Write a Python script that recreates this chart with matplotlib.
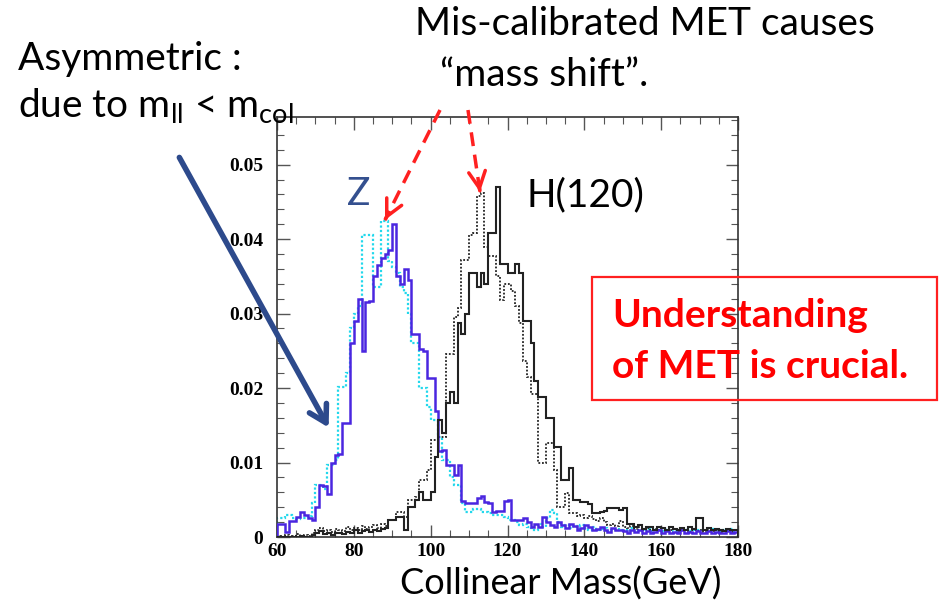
import numpy as np
import matplotlib.pyplot as plt
from matplotlib.patches import FancyArrowPatch, Rectangle
from matplotlib.lines import Line2D
from matplotlib.ticker import MultipleLocator, FixedLocator

# collinear mass, 1 GeV bins from 60 to 180 (entries in units of 1e-3)
mass_lo, mass_hi = 60, 180

z_reco = [1.8, 1.8, 0.7, 2.2, 2.2, 2.7, 3.3, 3.0, 2.6, 2.3,
          4.0, 7.0, 6.8, 5.8, 10.0, 11.0, 11.2, 15.3, 15.3, 26.0,
          29.0, 32.0, 25.0, 31.5, 31.7, 35.0, 36.5, 37.5, 38.0, 38.5,
          42.0, 35.0, 34.0, 36.0, 34.5, 27.3, 27.3, 25.3, 25.0, 21.3,
          21.3, 16.9, 11.6, 11.7, 9.7, 9.7, 8.3, 9.7, 4.8, 4.6,
          4.6, 4.6, 5.2, 5.5, 4.7, 4.5, 3.4, 3.5, 3.5, 4.8,
          5.0, 2.3, 2.3, 2.3, 2.5, 2.0, 1.4, 1.8, 1.4, 2.7,
          2.0, 1.6, 1.4, 2.0, 1.6, 1.2, 1.8, 1.5, 1.0, 1.2,
          1.6, 1.3, 0.9, 1.1, 1.4, 1.0, 0.7, 1.2, 0.9, 1.0,
          0.8, 0.6, 0.9, 0.7, 1.0, 0.6, 0.8, 0.5, 0.7, 0.9,
          0.6, 0.8, 0.5, 0.7, 0.6, 0.9, 0.5, 0.7, 0.6, 0.8,
          0.5, 0.6, 0.8, 0.5, 0.7, 0.6, 0.5, 0.8, 0.6, 0.7]

z_smear = [2.5, 2.5, 3.0, 3.0, 2.6, 2.4, 2.6, 2.5, 2.8, 4.5,
           7.0, 7.0, 6.5, 9.7, 9.7, 10.4, 20.2, 20.2, 22.0, 28.0,
           30.0, 31.0, 40.5, 40.5, 40.5, 33.6, 33.6, 42.5, 42.5, 37.0,
           36.3, 35.5, 33.6, 32.7, 30.0, 26.0, 26.0, 20.0, 20.0, 17.5,
           15.7, 15.7, 13.4, 10.4, 10.4, 8.0, 7.0, 7.0, 4.5, 3.3,
           3.3, 3.8, 3.8, 3.4, 3.4, 3.2, 3.0, 3.0, 2.9, 2.7,
           2.3, 2.3, 2.0, 1.6, 1.8, 1.4, 1.2, 1.0, 1.8, 1.4,
           2.5, 3.6, 3.2, 2.0, 1.4, 1.6, 1.2, 1.5, 1.1, 1.6,
           1.2, 1.0, 1.3, 0.9, 1.1, 1.2, 0.8, 1.0, 1.1, 0.9,
           1.0, 0.8, 1.2, 0.9, 0.8, 1.0, 1.1, 0.8, 0.9, 1.0,
           0.8, 1.1, 0.9, 0.8, 1.0, 0.9, 1.1, 0.8, 1.0, 0.9,
           0.9, 1.0, 0.8, 1.1, 0.9, 0.8, 1.0, 0.9, 1.1, 0.8]

h_reco = [0.0, 0.0, 0.0, 0.0, 0.0, 0.0, 0.2, 0.0, 0.0, 0.3,
          0.5, 0.8, 0.4, 0.6, 0.3, 0.5, 0.6, 0.4, 0.7, 0.5,
          0.9, 0.6, 0.8, 0.9, 0.7, 1.0, 0.8, 1.1, 1.2, 2.3,
          2.3, 2.7, 2.7, 0.9, 4.0, 4.0, 5.0, 6.0, 5.0, 5.0,
          6.0, 10.7, 15.7, 14.0, 18.0, 19.5, 18.0, 28.7, 27.3, 30.0,
          35.4, 35.4, 33.6, 35.4, 34.0, 40.8, 40.8, 47.0, 36.7, 36.7,
          35.4, 35.4, 36.7, 35.4, 29.0, 29.0, 26.0, 21.0, 18.8, 18.8,
          16.0, 16.0, 12.1, 12.1, 7.7, 7.7, 9.2, 5.0, 5.0, 4.7,
          4.7, 4.4, 3.2, 3.2, 3.4, 3.5, 3.9, 3.9, 3.9, 3.6,
          3.9, 1.8, 1.8, 1.3, 1.6, 1.1, 1.4, 1.3, 1.0, 1.4,
          1.2, 1.0, 1.3, 1.1, 0.9, 1.2, 1.0, 1.3, 1.1, 2.5,
          2.5, 1.0, 1.2, 0.9, 1.1, 1.0, 0.8, 1.1, 0.9, 1.0]

h_smear = [0.2, 0.0, 0.3, 0.0, 0.2, 0.4, 0.0, 0.3, 0.2, 0.5,
           0.9, 1.2, 0.8, 1.0, 0.7, 1.1, 0.9, 0.8, 1.3, 1.0,
           1.2, 0.9, 1.5, 1.1, 1.4, 1.6, 1.2, 1.8, 1.5, 2.3,
           2.3, 3.4, 3.4, 2.7, 5.0, 5.0, 5.4, 7.7, 7.7, 9.0,
           13.0, 13.0, 13.4, 13.4, 24.6, 24.6, 29.5, 30.8, 37.2, 37.2,
           40.5, 40.8, 45.8, 46.2, 39.0, 37.7, 37.7, 35.0, 31.8, 34.0,
           34.0, 33.0, 31.0, 28.7, 23.7, 21.5, 19.2, 19.2, 9.9, 9.9,
           12.6, 12.6, 9.0, 4.0, 4.0, 5.9, 3.2, 3.2, 2.8, 3.0,
           2.5, 2.8, 2.4, 2.2, 2.5, 2.0, 1.6, 1.8, 1.5, 2.2,
           1.4, 1.2, 1.5, 1.1, 1.3, 1.0, 1.2, 0.9, 1.1, 1.0,
           0.8, 1.0, 0.9, 1.1, 0.8, 1.0, 0.9, 0.7, 1.0, 0.8,
           0.9, 0.7, 1.0, 0.8, 0.9, 0.7, 0.8, 1.0, 0.7, 0.9]

x_ticks = [60, 80, 100, 120, 140, 160, 180]
y_ticks = [0, 0.01, 0.02, 0.03, 0.04, 0.05]
y_labels = ['0', '0.01', '0.02', '0.03', '0.04', '0.05']

W, H = 946, 612
SANS = 'Lato'


def fpos(x, y):
    """pixel position (from top-left) -> figure fraction"""
    return x / W, 1 - y / H


plt.rcParams['mathtext.fontset'] = 'custom'
plt.rcParams['mathtext.rm'] = SANS

fig = plt.figure(figsize=(W / 100, H / 100), dpi=100)
ax = fig.add_axes([277 / W, 1 - 537 / H, (738 - 277) / W, (537 - 117) / H])

edges = np.arange(mass_lo, mass_hi + 1, 1)
scale = 1e-3
ax.stairs(np.array(z_smear) * scale, edges, color='#22d8ec', lw=1.6, ls=(0, (1, 1)), zorder=2)
ax.stairs(np.array(z_reco) * scale, edges, color='#4a26e0', lw=1.8, zorder=3)
ax.stairs(np.array(h_smear) * scale, edges, color='#222222', lw=1.3, ls=(0, (1, 1)), zorder=2)
ax.stairs(np.array(h_reco) * scale, edges, color='#222222', lw=1.5, zorder=3)

ax.set_xlim(mass_lo, mass_hi)
ax.set_ylim(0, 0.0564)
ax.xaxis.set_major_locator(FixedLocator(x_ticks))
ax.xaxis.set_minor_locator(MultipleLocator(5))
ax.yaxis.set_major_locator(FixedLocator(y_ticks))
ax.yaxis.set_minor_locator(MultipleLocator(0.002))
ax.set_yticklabels(y_labels)
ax.tick_params(which='both', direction='in', top=True, right=True, color='#555555')
ax.tick_params(which='major', length=9, width=1.0)
ax.tick_params(which='minor', length=5, width=0.8)
ax.tick_params(axis='x', pad=4)
ax.tick_params(axis='y', pad=10)
for lab in ax.get_xticklabels() + ax.get_yticklabels():
    lab.set_fontfamily('Liberation Serif')
    lab.set_fontweight('bold')
    lab.set_fontsize(14)
for sp in ax.spines.values():
    sp.set_color('#333333')
    sp.set_linewidth(1.2)

# annotations around the plot
fig.text(*fpos(18, 70), 'Asymmetric :', fontsize=28, family=SANS, va='baseline')
fig.text(*fpos(18, 118), r'due to m$_{\rm ll}$ < m$_{\rm col}$', fontsize=28, family=SANS, va='baseline')
fig.text(*fpos(415, 35), 'Mis-calibrated MET causes', fontsize=28, family=SANS, va='baseline')
fig.text(*fpos(440, 86), '\u201cmass shift\u201d.', fontsize=28, family=SANS, va='baseline')
fig.text(*fpos(347, 205), 'Z', fontsize=28, family=SANS, color='#34508f', va='baseline')
fig.text(*fpos(527, 206), 'H(120)', fontsize=28, family=SANS, color='black', va='baseline')
fig.text(*fpos(400, 595), 'Collinear Mass(GeV)', fontsize=26, family=SANS, va='baseline')

fig.add_artist(Rectangle(fpos(592, 400), (937 - 592) / W, (400 - 277) / H,
                         transform=fig.transFigure, fill=False,
                         edgecolor='#ff2020', lw=1.6, zorder=4))
fig.text(*fpos(612, 327), 'Understanding', fontsize=28, family=SANS, weight='bold',
         color='#ff0000', va='baseline', zorder=5)
fig.text(*fpos(612, 378), 'of MET is crucial.', fontsize=28, family=SANS, weight='bold',
         color='#ff0000', va='baseline', zorder=5)

# navy arrow pointing at the low-mass tail
fig.add_artist(FancyArrowPatch(fpos(178, 155), fpos(330, 430), transform=fig.transFigure,
                               arrowstyle='->,head_length=12,head_width=7', lw=4,
                               color='#2d4a8c', mutation_scale=1, zorder=6))

# red dashed arrows pointing at the shifted peaks
for start, tip in [((440, 110), (385, 220)), ((468, 110), (480, 192))]:
    (x0, y0), (x1, y1) = fpos(*start), fpos(*tip)
    fig.add_artist(Line2D([x0, x1], [y0, y1], transform=fig.transFigure, color='#ff2020',
                          lw=2.5, ls=(0, (4, 2.5)), zorder=6))
    d = np.array(tip) - np.array(start)
    d = d / np.hypot(*d)
    pre = fpos(*(np.array(tip) - 4 * d))
    fig.add_artist(FancyArrowPatch(pre, (x1, y1), transform=fig.transFigure,
                                   arrowstyle='->,head_length=12,head_width=6', lw=2.5,
                                   color='#ff2020', mutation_scale=1, zorder=6))

fig.savefig('out.png', dpi=100)
